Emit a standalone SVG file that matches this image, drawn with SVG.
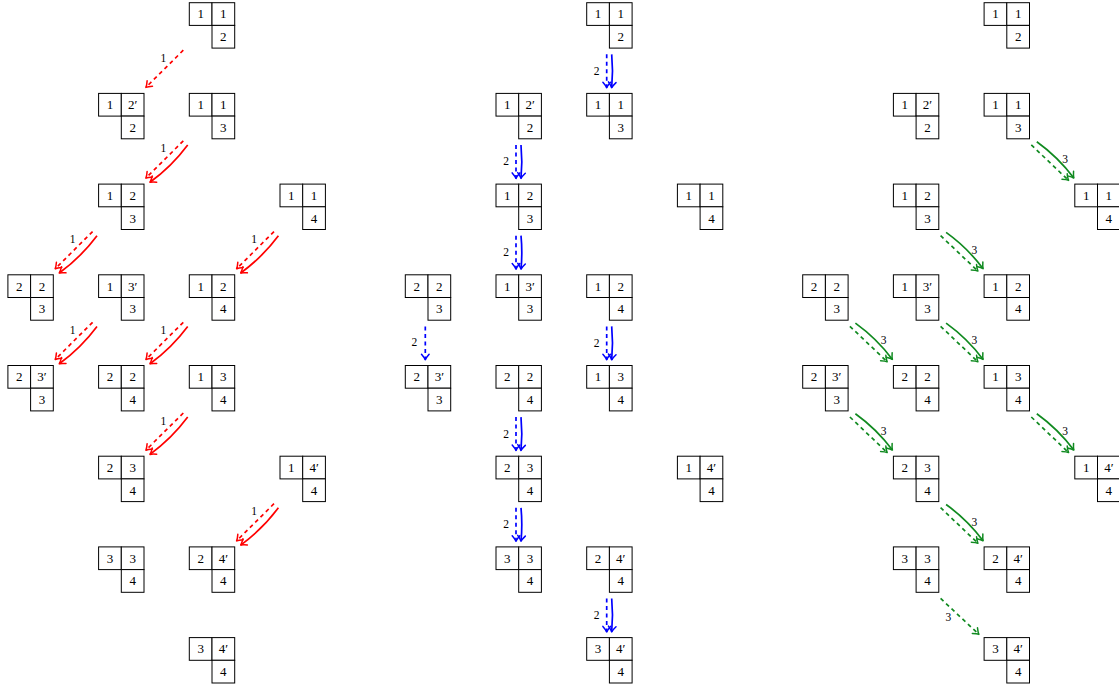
<svg xmlns="http://www.w3.org/2000/svg" width="1119" height="685" viewBox="0 0 1119 685">
<style>
.cell{fill:#fff;stroke:#000;stroke-width:1}
.t{font-family:"Liberation Serif","DejaVu Serif",serif;font-size:13px;text-anchor:middle;fill:#000}
.lb{font-family:"Liberation Serif","DejaVu Serif",serif;font-size:11.5px;text-anchor:middle;fill:#000}
.r{stroke:#ff0000;fill:none}
.b{stroke:#0000ff;fill:none}
.g{stroke:#108a20;fill:none}
.d{stroke-width:1.7;stroke-dasharray:4 3.5}
.s{stroke-width:1.7}
</style>
<defs>
<g id="shape">
<rect class="cell" x="0" y="0" width="22.7" height="22.7"/>
<rect class="cell" x="22.7" y="0" width="22.7" height="22.7"/>
<rect class="cell" x="22.7" y="22.7" width="22.7" height="22.7"/>
</g>
<marker id="mr" markerUnits="userSpaceOnUse" markerWidth="12" markerHeight="12" viewBox="-7 -6 8 12" refX="0" refY="0" orient="auto"><path d="M-5.5,-3.8 Q-2,-0.8 0,0 Q-2,0.8 -5.5,3.8" fill="none" stroke="#ff0000" stroke-width="1.5" stroke-linecap="round" stroke-linejoin="round"/></marker>
<marker id="mb" markerUnits="userSpaceOnUse" markerWidth="12" markerHeight="12" viewBox="-7 -6 8 12" refX="0" refY="0" orient="auto"><path d="M-5.5,-3.8 Q-2,-0.8 0,0 Q-2,0.8 -5.5,3.8" fill="none" stroke="#0000ff" stroke-width="1.5" stroke-linecap="round" stroke-linejoin="round"/></marker>
<marker id="mg" markerUnits="userSpaceOnUse" markerWidth="12" markerHeight="12" viewBox="-7 -6 8 12" refX="0" refY="0" orient="auto"><path d="M-5.5,-3.8 Q-2,-0.8 0,0 Q-2,0.8 -5.5,3.8" fill="none" stroke="#108a20" stroke-width="1.5" stroke-linecap="round" stroke-linejoin="round"/></marker>
</defs>

<g id="connectors">
<!-- panel 1 red -->
<g transform="translate(189.3,2.7)"><path class="r d" d="M-6,47.5 L-43.4,84.7" marker-end="url(#mr)"/><text class="lb" x="-26" y="59">1</text></g>
<g transform="translate(189.3,93.4)"><path class="r d" d="M-6,47.5 L-43.4,84.7" marker-end="url(#mr)"/><path class="r s" d="M-1.6,51.6 Q-17.6,73.1 -39.3,88.9" marker-end="url(#mr)"/><text class="lb" x="-26" y="59">1</text></g>
<g transform="translate(98.6,184.1)"><path class="r d" d="M-6,47.5 L-43.4,84.7" marker-end="url(#mr)"/><path class="r s" d="M-1.6,51.6 Q-17.6,73.1 -39.3,88.9" marker-end="url(#mr)"/><text class="lb" x="-26" y="59">1</text></g>
<g transform="translate(280,184.1)"><path class="r d" d="M-6,47.5 L-43.4,84.7" marker-end="url(#mr)"/><path class="r s" d="M-1.6,51.6 Q-17.6,73.1 -39.3,88.9" marker-end="url(#mr)"/><text class="lb" x="-26" y="59">1</text></g>
<g transform="translate(98.6,274.8)"><path class="r d" d="M-6,47.5 L-43.4,84.7" marker-end="url(#mr)"/><path class="r s" d="M-1.6,51.6 Q-17.6,73.1 -39.3,88.9" marker-end="url(#mr)"/><text class="lb" x="-26" y="59">1</text></g>
<g transform="translate(189.3,274.8)"><path class="r d" d="M-6,47.5 L-43.4,84.7" marker-end="url(#mr)"/><path class="r s" d="M-1.6,51.6 Q-17.6,73.1 -39.3,88.9" marker-end="url(#mr)"/><text class="lb" x="-26" y="59">1</text></g>
<g transform="translate(189.3,365.5)"><path class="r d" d="M-6,47.5 L-43.4,84.7" marker-end="url(#mr)"/><path class="r s" d="M-1.6,51.6 Q-17.6,73.1 -39.3,88.9" marker-end="url(#mr)"/><text class="lb" x="-26" y="59">1</text></g>
<g transform="translate(280,456.2)"><path class="r d" d="M-6,47.5 L-43.4,84.7" marker-end="url(#mr)"/><path class="r s" d="M-1.6,51.6 Q-17.6,73.1 -39.3,88.9" marker-end="url(#mr)"/><text class="lb" x="-26" y="59">1</text></g>
<!-- panel 2 blue -->
<g transform="translate(586.7,2.7)"><path class="b d" d="M20,51.6 L20,85" marker-end="url(#mb)"/><path class="b s" d="M25,51.6 Q26.6,68.3 25,85" marker-end="url(#mb)"/><text class="lb" x="10" y="72">2</text></g>
<g transform="translate(496,93.4)"><path class="b d" d="M20,51.6 L20,85" marker-end="url(#mb)"/><path class="b s" d="M25,51.6 Q26.6,68.3 25,85" marker-end="url(#mb)"/><text class="lb" x="10" y="72">2</text></g>
<g transform="translate(496,184.1)"><path class="b d" d="M20,51.6 L20,85" marker-end="url(#mb)"/><path class="b s" d="M25,51.6 Q26.6,68.3 25,85" marker-end="url(#mb)"/><text class="lb" x="10" y="72">2</text></g>
<g transform="translate(405.3,274.8)"><path class="b d" d="M20,51.6 L20,85" marker-end="url(#mb)"/><text class="lb" x="9" y="71.5">2</text></g>
<g transform="translate(586.7,274.8)"><path class="b d" d="M20,51.6 L20,85" marker-end="url(#mb)"/><path class="b s" d="M25,51.6 Q26.6,68.3 25,85" marker-end="url(#mb)"/><text class="lb" x="10" y="72">2</text></g>
<g transform="translate(496,365.5)"><path class="b d" d="M20,51.6 L20,85" marker-end="url(#mb)"/><path class="b s" d="M25,51.6 Q26.6,68.3 25,85" marker-end="url(#mb)"/><text class="lb" x="10" y="72">2</text></g>
<g transform="translate(496,456.2)"><path class="b d" d="M20,51.6 L20,85" marker-end="url(#mb)"/><path class="b s" d="M25,51.6 Q26.6,68.3 25,85" marker-end="url(#mb)"/><text class="lb" x="10" y="72">2</text></g>
<g transform="translate(586.7,546.9)"><path class="b d" d="M20,51.6 L20,85" marker-end="url(#mb)"/><path class="b s" d="M25,51.6 Q26.6,68.3 25,85" marker-end="url(#mb)"/><text class="lb" x="10" y="72">2</text></g>
<!-- panel 3 green -->
<g transform="translate(984.1,93.4)"><path class="g d" d="M47.2,51.5 L84.5,87" marker-end="url(#mg)"/><path class="g s" d="M52.7,48.3 Q74,63.6 89.7,84.6" marker-end="url(#mg)"/><text class="lb" x="81" y="69.5">3</text></g>
<g transform="translate(893.4,184.1)"><path class="g d" d="M47.2,51.5 L84.5,87" marker-end="url(#mg)"/><path class="g s" d="M52.7,48.3 Q74,63.6 89.7,84.6" marker-end="url(#mg)"/><text class="lb" x="81" y="69.5">3</text></g>
<g transform="translate(802.7,274.8)"><path class="g d" d="M47.2,51.5 L84.5,87" marker-end="url(#mg)"/><path class="g s" d="M52.7,48.3 Q74,63.6 89.7,84.6" marker-end="url(#mg)"/><text class="lb" x="81" y="69.5">3</text></g>
<g transform="translate(893.4,274.8)"><path class="g d" d="M47.2,51.5 L84.5,87" marker-end="url(#mg)"/><path class="g s" d="M52.7,48.3 Q74,63.6 89.7,84.6" marker-end="url(#mg)"/><text class="lb" x="81" y="69.5">3</text></g>
<g transform="translate(802.7,365.5)"><path class="g d" d="M47.2,51.5 L84.5,87" marker-end="url(#mg)"/><path class="g s" d="M52.7,48.3 Q74,63.6 89.7,84.6" marker-end="url(#mg)"/><text class="lb" x="81" y="69.5">3</text></g>
<g transform="translate(984.1,365.5)"><path class="g d" d="M47.2,51.5 L84.5,87" marker-end="url(#mg)"/><path class="g s" d="M52.7,48.3 Q74,63.6 89.7,84.6" marker-end="url(#mg)"/><text class="lb" x="81" y="69.5">3</text></g>
<g transform="translate(893.4,456.2)"><path class="g d" d="M47.2,51.5 L84.5,87" marker-end="url(#mg)"/><path class="g s" d="M52.7,48.3 Q74,63.6 89.7,84.6" marker-end="url(#mg)"/><text class="lb" x="81" y="69.5">3</text></g>
<g transform="translate(893.4,546.9)"><path class="g d" d="M47.2,51.5 L85.5,87.5" marker-end="url(#mg)"/><text class="lb" x="55" y="73.8">3</text></g>
</g>

<!-- panel 1 tableaux -->
<g id="p1-r0c2" transform="translate(189.3,2.7)"><use href="#shape"/><text class="t" x="11.35" y="15.8">1</text><text class="t" x="34.05" y="15.8">1</text><text class="t" x="34.05" y="38.5">2</text></g>
<g id="p1-r1c1" transform="translate(98.6,93.4)"><use href="#shape"/><text class="t" x="11.35" y="15.8">1</text><text class="t" x="34.05" y="15.8">2′</text><text class="t" x="34.05" y="38.5">2</text></g>
<g id="p1-r1c2" transform="translate(189.3,93.4)"><use href="#shape"/><text class="t" x="11.35" y="15.8">1</text><text class="t" x="34.05" y="15.8">1</text><text class="t" x="34.05" y="38.5">3</text></g>
<g id="p1-r2c1" transform="translate(98.6,184.1)"><use href="#shape"/><text class="t" x="11.35" y="15.8">1</text><text class="t" x="34.05" y="15.8">2</text><text class="t" x="34.05" y="38.5">3</text></g>
<g id="p1-r2c3" transform="translate(280,184.1)"><use href="#shape"/><text class="t" x="11.35" y="15.8">1</text><text class="t" x="34.05" y="15.8">1</text><text class="t" x="34.05" y="38.5">4</text></g>
<g id="p1-r3c0" transform="translate(7.9,274.8)"><use href="#shape"/><text class="t" x="11.35" y="15.8">2</text><text class="t" x="34.05" y="15.8">2</text><text class="t" x="34.05" y="38.5">3</text></g>
<g id="p1-r3c1" transform="translate(98.6,274.8)"><use href="#shape"/><text class="t" x="11.35" y="15.8">1</text><text class="t" x="34.05" y="15.8">3′</text><text class="t" x="34.05" y="38.5">3</text></g>
<g id="p1-r3c2" transform="translate(189.3,274.8)"><use href="#shape"/><text class="t" x="11.35" y="15.8">1</text><text class="t" x="34.05" y="15.8">2</text><text class="t" x="34.05" y="38.5">4</text></g>
<g id="p1-r4c0" transform="translate(7.9,365.5)"><use href="#shape"/><text class="t" x="11.35" y="15.8">2</text><text class="t" x="34.05" y="15.8">3′</text><text class="t" x="34.05" y="38.5">3</text></g>
<g id="p1-r4c1" transform="translate(98.6,365.5)"><use href="#shape"/><text class="t" x="11.35" y="15.8">2</text><text class="t" x="34.05" y="15.8">2</text><text class="t" x="34.05" y="38.5">4</text></g>
<g id="p1-r4c2" transform="translate(189.3,365.5)"><use href="#shape"/><text class="t" x="11.35" y="15.8">1</text><text class="t" x="34.05" y="15.8">3</text><text class="t" x="34.05" y="38.5">4</text></g>
<g id="p1-r5c1" transform="translate(98.6,456.2)"><use href="#shape"/><text class="t" x="11.35" y="15.8">2</text><text class="t" x="34.05" y="15.8">3</text><text class="t" x="34.05" y="38.5">4</text></g>
<g id="p1-r5c3" transform="translate(280,456.2)"><use href="#shape"/><text class="t" x="11.35" y="15.8">1</text><text class="t" x="34.05" y="15.8">4′</text><text class="t" x="34.05" y="38.5">4</text></g>
<g id="p1-r6c1" transform="translate(98.6,546.9)"><use href="#shape"/><text class="t" x="11.35" y="15.8">3</text><text class="t" x="34.05" y="15.8">3</text><text class="t" x="34.05" y="38.5">4</text></g>
<g id="p1-r6c2" transform="translate(189.3,546.9)"><use href="#shape"/><text class="t" x="11.35" y="15.8">2</text><text class="t" x="34.05" y="15.8">4′</text><text class="t" x="34.05" y="38.5">4</text></g>
<g id="p1-r7c2" transform="translate(189.3,637.6)"><use href="#shape"/><text class="t" x="11.35" y="15.8">3</text><text class="t" x="34.05" y="15.8">4′</text><text class="t" x="34.05" y="38.5">4</text></g>

<!-- panel 2 tableaux -->
<g id="p2-r0c2" transform="translate(586.7,2.7)"><use href="#shape"/><text class="t" x="11.35" y="15.8">1</text><text class="t" x="34.05" y="15.8">1</text><text class="t" x="34.05" y="38.5">2</text></g>
<g id="p2-r1c1" transform="translate(496,93.4)"><use href="#shape"/><text class="t" x="11.35" y="15.8">1</text><text class="t" x="34.05" y="15.8">2′</text><text class="t" x="34.05" y="38.5">2</text></g>
<g id="p2-r1c2" transform="translate(586.7,93.4)"><use href="#shape"/><text class="t" x="11.35" y="15.8">1</text><text class="t" x="34.05" y="15.8">1</text><text class="t" x="34.05" y="38.5">3</text></g>
<g id="p2-r2c1" transform="translate(496,184.1)"><use href="#shape"/><text class="t" x="11.35" y="15.8">1</text><text class="t" x="34.05" y="15.8">2</text><text class="t" x="34.05" y="38.5">3</text></g>
<g id="p2-r2c3" transform="translate(677.4,184.1)"><use href="#shape"/><text class="t" x="11.35" y="15.8">1</text><text class="t" x="34.05" y="15.8">1</text><text class="t" x="34.05" y="38.5">4</text></g>
<g id="p2-r3c0" transform="translate(405.3,274.8)"><use href="#shape"/><text class="t" x="11.35" y="15.8">2</text><text class="t" x="34.05" y="15.8">2</text><text class="t" x="34.05" y="38.5">3</text></g>
<g id="p2-r3c1" transform="translate(496,274.8)"><use href="#shape"/><text class="t" x="11.35" y="15.8">1</text><text class="t" x="34.05" y="15.8">3′</text><text class="t" x="34.05" y="38.5">3</text></g>
<g id="p2-r3c2" transform="translate(586.7,274.8)"><use href="#shape"/><text class="t" x="11.35" y="15.8">1</text><text class="t" x="34.05" y="15.8">2</text><text class="t" x="34.05" y="38.5">4</text></g>
<g id="p2-r4c0" transform="translate(405.3,365.5)"><use href="#shape"/><text class="t" x="11.35" y="15.8">2</text><text class="t" x="34.05" y="15.8">3′</text><text class="t" x="34.05" y="38.5">3</text></g>
<g id="p2-r4c1" transform="translate(496,365.5)"><use href="#shape"/><text class="t" x="11.35" y="15.8">2</text><text class="t" x="34.05" y="15.8">2</text><text class="t" x="34.05" y="38.5">4</text></g>
<g id="p2-r4c2" transform="translate(586.7,365.5)"><use href="#shape"/><text class="t" x="11.35" y="15.8">1</text><text class="t" x="34.05" y="15.8">3</text><text class="t" x="34.05" y="38.5">4</text></g>
<g id="p2-r5c1" transform="translate(496,456.2)"><use href="#shape"/><text class="t" x="11.35" y="15.8">2</text><text class="t" x="34.05" y="15.8">3</text><text class="t" x="34.05" y="38.5">4</text></g>
<g id="p2-r5c3" transform="translate(677.4,456.2)"><use href="#shape"/><text class="t" x="11.35" y="15.8">1</text><text class="t" x="34.05" y="15.8">4′</text><text class="t" x="34.05" y="38.5">4</text></g>
<g id="p2-r6c1" transform="translate(496,546.9)"><use href="#shape"/><text class="t" x="11.35" y="15.8">3</text><text class="t" x="34.05" y="15.8">3</text><text class="t" x="34.05" y="38.5">4</text></g>
<g id="p2-r6c2" transform="translate(586.7,546.9)"><use href="#shape"/><text class="t" x="11.35" y="15.8">2</text><text class="t" x="34.05" y="15.8">4′</text><text class="t" x="34.05" y="38.5">4</text></g>
<g id="p2-r7c2" transform="translate(586.7,637.6)"><use href="#shape"/><text class="t" x="11.35" y="15.8">3</text><text class="t" x="34.05" y="15.8">4′</text><text class="t" x="34.05" y="38.5">4</text></g>

<!-- panel 3 tableaux -->
<g id="p3-r0c2" transform="translate(984.1,2.7)"><use href="#shape"/><text class="t" x="11.35" y="15.8">1</text><text class="t" x="34.05" y="15.8">1</text><text class="t" x="34.05" y="38.5">2</text></g>
<g id="p3-r1c1" transform="translate(893.4,93.4)"><use href="#shape"/><text class="t" x="11.35" y="15.8">1</text><text class="t" x="34.05" y="15.8">2′</text><text class="t" x="34.05" y="38.5">2</text></g>
<g id="p3-r1c2" transform="translate(984.1,93.4)"><use href="#shape"/><text class="t" x="11.35" y="15.8">1</text><text class="t" x="34.05" y="15.8">1</text><text class="t" x="34.05" y="38.5">3</text></g>
<g id="p3-r2c1" transform="translate(893.4,184.1)"><use href="#shape"/><text class="t" x="11.35" y="15.8">1</text><text class="t" x="34.05" y="15.8">2</text><text class="t" x="34.05" y="38.5">3</text></g>
<g id="p3-r2c3" transform="translate(1074.8,184.1)"><use href="#shape"/><text class="t" x="11.35" y="15.8">1</text><text class="t" x="34.05" y="15.8">1</text><text class="t" x="34.05" y="38.5">4</text></g>
<g id="p3-r3c0" transform="translate(802.7,274.8)"><use href="#shape"/><text class="t" x="11.35" y="15.8">2</text><text class="t" x="34.05" y="15.8">2</text><text class="t" x="34.05" y="38.5">3</text></g>
<g id="p3-r3c1" transform="translate(893.4,274.8)"><use href="#shape"/><text class="t" x="11.35" y="15.8">1</text><text class="t" x="34.05" y="15.8">3′</text><text class="t" x="34.05" y="38.5">3</text></g>
<g id="p3-r3c2" transform="translate(984.1,274.8)"><use href="#shape"/><text class="t" x="11.35" y="15.8">1</text><text class="t" x="34.05" y="15.8">2</text><text class="t" x="34.05" y="38.5">4</text></g>
<g id="p3-r4c0" transform="translate(802.7,365.5)"><use href="#shape"/><text class="t" x="11.35" y="15.8">2</text><text class="t" x="34.05" y="15.8">3′</text><text class="t" x="34.05" y="38.5">3</text></g>
<g id="p3-r4c1" transform="translate(893.4,365.5)"><use href="#shape"/><text class="t" x="11.35" y="15.8">2</text><text class="t" x="34.05" y="15.8">2</text><text class="t" x="34.05" y="38.5">4</text></g>
<g id="p3-r4c2" transform="translate(984.1,365.5)"><use href="#shape"/><text class="t" x="11.35" y="15.8">1</text><text class="t" x="34.05" y="15.8">3</text><text class="t" x="34.05" y="38.5">4</text></g>
<g id="p3-r5c1" transform="translate(893.4,456.2)"><use href="#shape"/><text class="t" x="11.35" y="15.8">2</text><text class="t" x="34.05" y="15.8">3</text><text class="t" x="34.05" y="38.5">4</text></g>
<g id="p3-r5c3" transform="translate(1074.8,456.2)"><use href="#shape"/><text class="t" x="11.35" y="15.8">1</text><text class="t" x="34.05" y="15.8">4′</text><text class="t" x="34.05" y="38.5">4</text></g>
<g id="p3-r6c1" transform="translate(893.4,546.9)"><use href="#shape"/><text class="t" x="11.35" y="15.8">3</text><text class="t" x="34.05" y="15.8">3</text><text class="t" x="34.05" y="38.5">4</text></g>
<g id="p3-r6c2" transform="translate(984.1,546.9)"><use href="#shape"/><text class="t" x="11.35" y="15.8">2</text><text class="t" x="34.05" y="15.8">4′</text><text class="t" x="34.05" y="38.5">4</text></g>
<g id="p3-r7c2" transform="translate(984.1,637.6)"><use href="#shape"/><text class="t" x="11.35" y="15.8">3</text><text class="t" x="34.05" y="15.8">4′</text><text class="t" x="34.05" y="38.5">4</text></g>
</svg>
